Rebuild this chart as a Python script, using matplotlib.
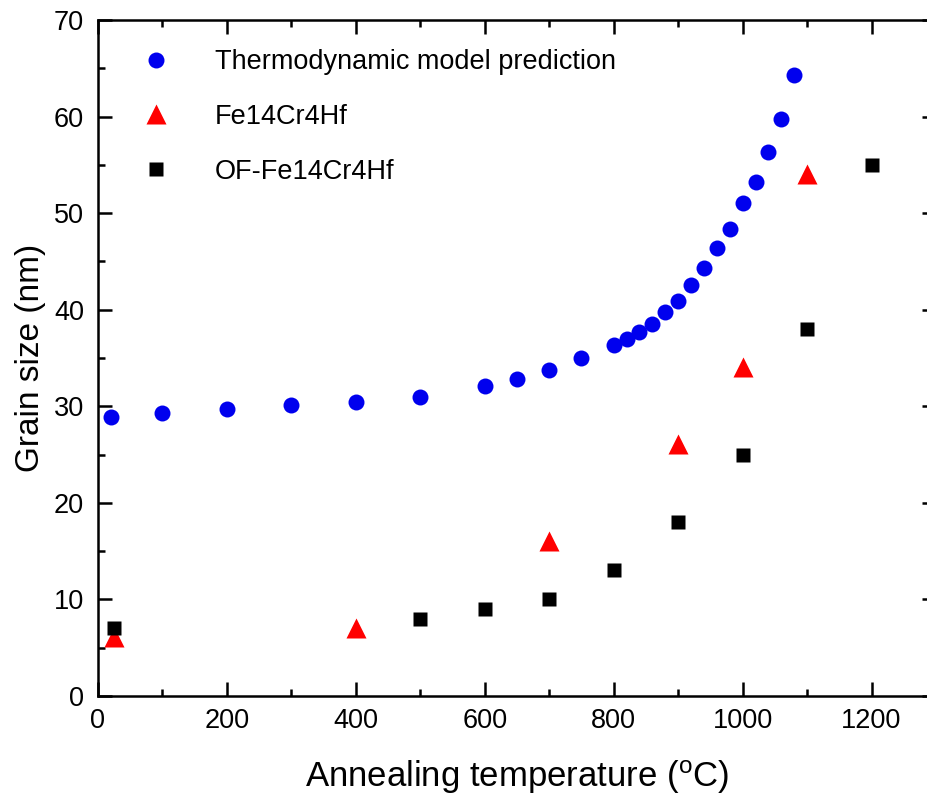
import matplotlib
matplotlib.use("Agg")
import matplotlib.pyplot as plt
from matplotlib.ticker import MultipleLocator

plt.rcParams['font.family'] = ['Liberation Sans', 'DejaVu Sans']
plt.rcParams['mathtext.fontset'] = 'custom'
plt.rcParams['mathtext.rm'] = 'Liberation Sans'

model_T = [20, 100, 200, 300, 400, 500, 600, 650, 700, 750, 800, 820, 840, 860, 880,
           900, 920, 940, 960, 980, 1000, 1020, 1040, 1060, 1080]
model_G = [28.9, 29.3, 29.7, 30.1, 30.4, 31.0, 32.1, 32.8, 33.8, 35.0, 36.3, 37.0, 37.7,
           38.5, 39.8, 40.9, 42.6, 44.3, 46.4, 48.4, 51.1, 53.2, 56.3, 59.8, 64.3]

fe_T = [25, 400, 700, 900, 1000, 1100]
fe_G = [6.1, 7.0, 16.1, 26.1, 34.1, 54.1]

of_T = [25, 500, 600, 700, 800, 900, 1000, 1100, 1200]
of_G = [7.0, 8.0, 9.0, 10.0, 13.0, 18.0, 25.0, 38.0, 55.0]

fig = plt.figure(figsize=(9.28, 7.99), dpi=100)
ax = fig.add_axes([98/928, 1-696/799, (936-98)/928, (696-20)/799])

ax.plot(model_T, model_G, 'o', color='#0000ee', ms=11.5, mec='none',
        label='Thermodynamic model prediction')
ax.plot(fe_T, fe_G, '^', color='#ff0000', ms=14, mec='none', label='Fe14Cr4Hf')
ax.plot(of_T, of_G, 's', color='black', ms=10, mec='none', label='OF-Fe14Cr4Hf')

ax.set_xlim(0, 1300)
ax.set_ylim(0, 70)
ax.xaxis.set_major_locator(MultipleLocator(200))
ax.xaxis.set_minor_locator(MultipleLocator(100))
ax.yaxis.set_major_locator(MultipleLocator(10))
ax.yaxis.set_minor_locator(MultipleLocator(5))
ax.tick_params(which='both', direction='in', top=True, right=True, width=1.8,
               labelsize=19.5)
ax.tick_params(axis='x', pad=9)
ax.tick_params(axis='y', pad=10)
ax.tick_params(which='major', length=10)
ax.tick_params(which='minor', length=5)
for s in ax.spines.values():
    s.set_linewidth(1.8)

ax.set_xlabel('Annealing temperature ($\\mathregular{^{o}}$C)', fontsize=25, labelpad=17)
ax.set_ylabel('Grain size (nm)', fontsize=24, labelpad=6)

leg = ax.legend(loc='upper left', bbox_to_anchor=(142/928, 1-49/799),
                bbox_transform=fig.transFigure, frameon=False, numpoints=1,
                fontsize=19.5, handlelength=1.0, handletextpad=1.7,
                labelspacing=1.07, borderpad=0, borderaxespad=0)

fig.savefig('out.png', dpi=100)
